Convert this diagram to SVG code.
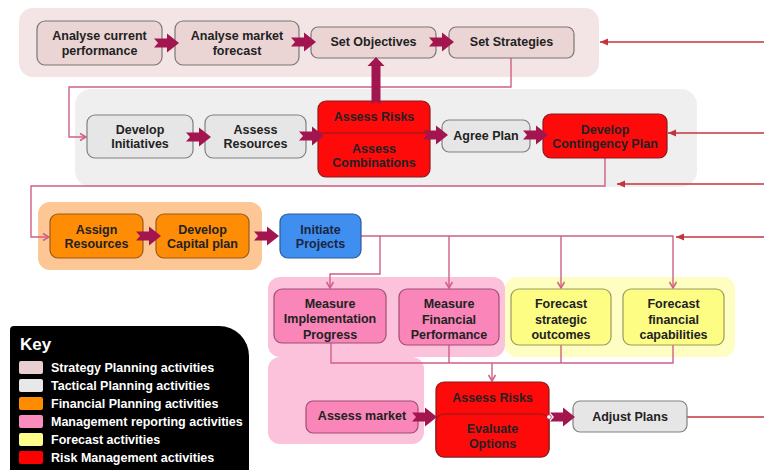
<svg xmlns="http://www.w3.org/2000/svg" xmlns:xlink="http://www.w3.org/1999/xlink" width="764" height="470" viewBox="0 0 764 470">
<style>
text{font-family:"Liberation Sans",Arial,sans-serif;font-weight:bold;font-size:12.5px;fill:#222;text-anchor:middle}
.key text{fill:#fff;text-anchor:start}
.strat{fill:#ead4d4;stroke:#7d7575;stroke-width:1.2}
.tact{fill:#e6e6e6;stroke:#808080;stroke-width:1.2}
.risk{fill:#ff0a0a;stroke:#8a1c1c;stroke-width:1.2}
.fin{fill:#fe8c05;stroke:#9a5a1a;stroke-width:1.2}
.blue{fill:#3f8ff0;stroke:#2b5c9c;stroke-width:1.2}
.mgmt{fill:#f985b9;stroke:#a04f72;stroke-width:1.2}
.fcst{fill:#fdfd84;stroke:#9a9a60;stroke-width:1.2}
.pk{fill:none;stroke:#cf6086;stroke-width:1.4}
.rd{fill:none;stroke:#c4343c;stroke-width:1.5}
.ba{fill:#a3154f}
</style>
<defs>
<marker id="mo" markerUnits="userSpaceOnUse" markerWidth="10" markerHeight="10" refX="8" refY="5" orient="auto">
<path d="M2,1.5 L8,5 L2,8.5" fill="none" stroke="#cf6086" stroke-width="1.5"/>
</marker>
<marker id="mr" markerUnits="userSpaceOnUse" markerWidth="10" markerHeight="10" refX="8" refY="5" orient="auto">
<path d="M8,5 L0,1.5 L0,8.5 Z" fill="#c4343c"/>
</marker>
<path id="arr" d="M0,0 L-12,-9.5 L-12,-4.5 L-25,-4.5 L-21,0 L-25,4.5 L-12,4.5 L-12,9.5 Z"/>
</defs>

<g id="bands">
<rect x="19" y="8" width="580" height="69" rx="14" fill="#f3e5e5"/>
<rect x="75" y="89" width="622" height="98" rx="16" fill="#efefef"/>
<rect x="38" y="202" width="224" height="68" rx="12" fill="#fcc795"/>
<rect x="268" y="357" width="156" height="87" rx="12" fill="#fcc1db"/>
<rect x="268" y="277" width="237" height="80" rx="12" fill="#fcc1db"/>
<rect x="505" y="277" width="230" height="80" rx="12" fill="#fefec2"/>
</g>

<g id="connectors">
<path class="pk" d="M511,58 V87 H69 V137 H86" marker-end="url(#mo)"/>
<path class="pk" d="M605,158 V186 H31 V237 H49" marker-end="url(#mo)"/>
<path class="pk" d="M361,236 H673 V288" marker-end="url(#mo)"/>
<path class="pk" d="M380,236 V274 H330 V288" marker-end="url(#mo)"/>
<path class="pk" d="M449,236 V288" marker-end="url(#mo)"/>
<path class="pk" d="M561,236 V288" marker-end="url(#mo)"/>
<path class="pk" d="M331,343 V363 H673 V345 M449,345 V363 M561,345 V363"/>
<path class="pk" d="M492,363 V381" marker-end="url(#mo)"/>
<path class="rd" d="M764,42 H600" marker-end="url(#mr)"/>
<path class="rd" d="M764,133 H668" marker-end="url(#mr)"/>
<path class="rd" d="M764,184 H617" marker-end="url(#mr)"/>
<path class="rd" d="M764,237 H676" marker-end="url(#mr)"/>
<path class="rd" d="M687,417 H764"/>
</g>

<g id="n-analyse-current"><rect class="strat" x="37" y="21" width="125" height="44" rx="8"/><text x="99.5" y="39.5">Analyse current</text><text x="99.5" y="54.5">performance</text></g>
<g id="n-analyse-market"><rect class="strat" x="175" y="21" width="124" height="44" rx="8"/><text x="237" y="39.5">Analyse market</text><text x="237" y="54.5">forecast</text></g>
<g id="n-set-objectives"><rect class="strat" x="311" y="27" width="125" height="31" rx="7"/><text x="373.5" y="46">Set Objectives</text></g>
<g id="n-set-strategies"><rect class="strat" x="449" y="27" width="125" height="31" rx="7"/><text x="511.5" y="46">Set Strategies</text></g>

<g id="n-develop-initiatives"><rect class="tact" x="87" y="115" width="106" height="43" rx="8"/><text x="140" y="133.5">Develop</text><text x="140" y="147.5">Initiatives</text></g>
<g id="n-assess-resources"><rect class="tact" x="205" y="115" width="101" height="43" rx="8"/><text x="255.5" y="133.5">Assess</text><text x="255.5" y="147.5">Resources</text></g>
<g id="n-assess-risks-1"><rect class="risk" x="318" y="101" width="112" height="76" rx="8"/><line x1="318" y1="133" x2="430" y2="133" stroke="#8a1c1c" stroke-width="1.2"/><text x="374" y="120.5">Assess Risks</text><text x="374" y="152.5">Assess</text><text x="374" y="167">Combinations</text></g>
<g id="n-agree-plan"><rect class="tact" x="442" y="120" width="88" height="32" rx="7"/><text x="486" y="139.5">Agree Plan</text></g>
<g id="n-contingency"><rect class="risk" x="543" y="114" width="124" height="44" rx="8"/><text x="605" y="133.5">Develop</text><text x="605" y="147.5">Contingency Plan</text></g>

<g id="n-assign-resources"><rect class="fin" x="50" y="214" width="93" height="44" rx="8"/><text x="96.5" y="233.5">Assign</text><text x="96.5" y="247.5">Resources</text></g>
<g id="n-capital-plan"><rect class="fin" x="156" y="214" width="93" height="44" rx="8"/><text x="202.5" y="233.5">Develop</text><text x="202.5" y="247.5">Capital plan</text></g>
<g id="n-initiate-projects"><rect class="blue" x="280" y="214" width="81" height="44" rx="8"/><text x="320.5" y="233.5" style="fill:#1c2540">Initiate</text><text x="320.5" y="247.5" style="fill:#1c2540">Projects</text></g>

<g id="n-measure-impl"><rect class="mgmt" x="274" y="289" width="112" height="54" rx="8"/><text x="330" y="307.5">Measure</text><text x="330" y="323">Implementation</text><text x="330" y="338.5">Progress</text></g>
<g id="n-measure-fin"><rect class="mgmt" x="399" y="289" width="100" height="56" rx="8"/><text x="449" y="308">Measure</text><text x="449" y="323.5">Financial</text><text x="449" y="339">Performance</text></g>
<g id="n-forecast-strategic"><rect class="fcst" x="511" y="289" width="100" height="56" rx="8"/><text x="561" y="308">Forecast</text><text x="561" y="323.5">strategic</text><text x="561" y="339">outcomes</text></g>
<g id="n-forecast-financial"><rect class="fcst" x="623" y="289" width="101" height="56" rx="8"/><text x="673.5" y="308">Forecast</text><text x="673.5" y="323.5">financial</text><text x="673.5" y="339">capabilities</text></g>

<g id="n-assess-market"><rect class="mgmt" x="306" y="401" width="112" height="32" rx="7"/><text x="362" y="420">Assess market</text></g>
<g id="n-assess-risks-2"><rect class="risk" x="436" y="382" width="113" height="75" rx="8"/><rect class="risk" x="436" y="414" width="113" height="43" rx="8"/><text x="492.5" y="401.5">Assess Risks</text><text x="492.5" y="432.5">Evaluate</text><text x="492.5" y="447.5">Options</text></g>
<g id="n-adjust-plans"><rect class="tact" x="573" y="401" width="114" height="31" rx="7"/><text x="630" y="420.5">Adjust Plans</text></g>

<g id="block-arrows" class="ba">
<use xlink:href="#arr" transform="translate(179,43)"/>
<use xlink:href="#arr" transform="translate(316,42)"/>
<use xlink:href="#arr" transform="translate(454,42)"/>
<use xlink:href="#arr" transform="translate(211,137)"/>
<use xlink:href="#arr" transform="translate(324,136)"/>
<use xlink:href="#arr" transform="translate(448,135)"/>
<use xlink:href="#arr" transform="translate(548,135)"/>
<use xlink:href="#arr" transform="translate(161,236)"/>
<use xlink:href="#arr" transform="translate(279,236)"/>
<use xlink:href="#arr" transform="translate(437,417)"/>
<use xlink:href="#arr" transform="translate(575,417)"/>
<path d="M376,57 L384.5,66 L380.5,66 L380.5,105 L376,101 L371.5,105 L371.5,66 L367.5,66 Z"/>
<circle cx="549" cy="417" r="2.3" fill="#fff" stroke="#a3154f" stroke-width="0.8"/>
</g>

<g id="key" class="key">
<path d="M10,472 V330 Q10,326 14,326 H219 A30,30 0 0 1 249,356 V472 Z" fill="#000"/>
<text x="20" y="350" style="font-size:17px">Key</text>
<rect x="19" y="361" width="24" height="13" rx="2" fill="#e8d0d0"/>
<rect x="19" y="379" width="24" height="13" rx="2" fill="#e8e8e8"/>
<rect x="19" y="397" width="24" height="13" rx="2" fill="#ff8c00"/>
<rect x="19" y="415" width="24" height="13" rx="2" fill="#f98bbd"/>
<rect x="19" y="433" width="24" height="13" rx="2" fill="#fdfd8a"/>
<rect x="19" y="451" width="24" height="13" rx="2" fill="#ff0000"/>
<text x="51" y="372">Strategy Planning activities</text>
<text x="51" y="390">Tactical Planning activities</text>
<text x="51" y="408">Financial Planning activities</text>
<text x="51" y="426">Management reporting activities</text>
<text x="51" y="444">Forecast activities</text>
<text x="51" y="462">Risk Management activities</text>
</g>
</svg>
